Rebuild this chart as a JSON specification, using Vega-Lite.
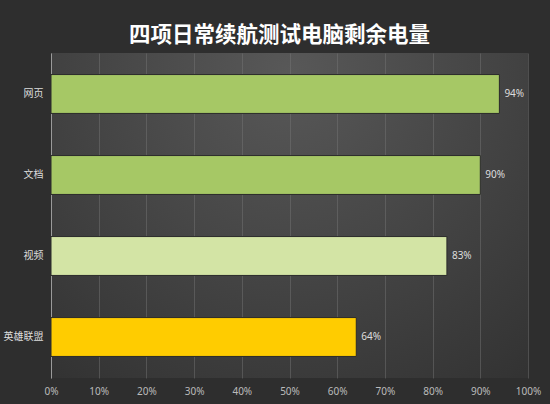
{
  "$schema": "https://vega.github.io/schema/vega-lite/v6.json",
  "autosize": {"type": "none"},
  "padding": {"left": 51, "top": 53, "right": 22, "bottom": 26},
  "width": 477,
  "height": 325,
  "background": "#2e2e2e",
  "title": {
    "text": "四项日常续航测试电脑剩余电量",
    "font": "Noto Sans CJK SC",
    "fontSize": 21.5,
    "fontWeight": "bold",
    "color": "#ffffff",
    "anchor": "middle",
    "dx": -10,
    "offset": 7
  },
  "data": {
    "values": [
      {"item": "网页", "value": 94, "label": "94%", "group": "a"},
      {"item": "文档", "value": 90, "label": "90%", "group": "a"},
      {"item": "视频", "value": 83, "label": "83%", "group": "b"},
      {"item": "英雄联盟", "value": 64, "label": "64%", "group": "c"}
    ]
  },
  "encoding": {
    "y": {
      "field": "item",
      "type": "nominal",
      "sort": null,
      "title": null,
      "scale": {"paddingInner": 0.52, "paddingOuter": 0.266},
      "axis": {
        "ticks": false,
        "domain": true,
        "domainColor": "#9a9a9a",
        "labelColor": "#dddddd",
        "labelFontSize": 10,
        "labelPadding": 8,
        "labelFont": "Noto Sans CJK SC"
      }
    },
    "x": {
      "field": "value",
      "type": "quantitative",
      "title": null,
      "scale": {"domain": [0, 100], "nice": false},
      "axis": {
        "values": [0, 10, 20, 30, 40, 50, 60, 70, 80, 90, 100],
        "labelExpr": "datum.value + '%'",
        "ticks": false,
        "domain": false,
        "grid": true,
        "gridColor": "#777777",
        "gridOpacity": 0.45,
        "labelColor": "#bbbbbb",
        "labelFontSize": 10,
        "labelPadding": 8,
        "labelFont": "Noto Sans",
        "labelFlush": false
      }
    }
  },
  "layer": [
    {
      "mark": {"type": "bar", "stroke": "#2a2a2a", "strokeWidth": 1},
      "encoding": {
        "color": {
          "field": "group",
          "type": "nominal",
          "scale": {"domain": ["a", "b", "c"], "range": ["#a6c865", "#d3e4a5", "#ffcc00"]},
          "legend": null
        }
      }
    },
    {
      "mark": {
        "type": "text",
        "align": "left",
        "dx": 5,
        "color": "#dddddd",
        "fontSize": 10,
        "font": "Noto Sans"
      },
      "encoding": {"text": {"field": "label"}}
    }
  ],
  "config": {
    "view": {
      "stroke": null,
      "fill": {
        "gradient": "radial",
        "x1": 0.5, "y1": 0.2, "r1": 0,
        "x2": 0.5, "y2": 0.2, "r2": 0.8,
        "stops": [
          {"offset": 0, "color": "#585858"},
          {"offset": 1, "color": "#333333"}
        ]
      }
    }
  }
}
